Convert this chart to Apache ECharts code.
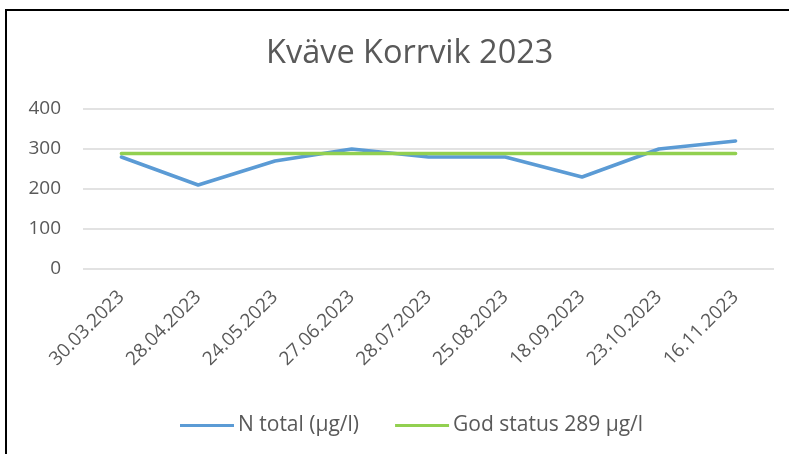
<!DOCTYPE html>
<html>
<head>
<meta charset="utf-8">
<script src="https://cdn.jsdelivr.net/npm/echarts@6/dist/echarts.min.js"></script>
<style>
  html, body { margin: 0; padding: 0; background: #fff; overflow: hidden; }
  #main { width: 789px; height: 454px; }
  #frame {
    position: absolute; left: 5px; top: 9px; width: 900px; height: 600px;
    border: 2px solid #000; pointer-events: none;
  }
</style>
</head>
<body>
<div id="main"></div>
<div id="frame"></div>
<script>
const dates = ["30.03.2023", "28.04.2023", "24.05.2023", "27.06.2023", "28.07.2023",
  "25.08.2023", "18.09.2023", "23.10.2023", "16.11.2023"]
const nTotal = [280, 210, 270, 300, 280, 280, 230, 300, 320]
const godStatus = [289, 289, 289, 289, 289, 289, 289, 289, 289]

const font = "'Open Sans', 'Noto Sans', sans-serif"
const grey = "#595959"

const myChart = echarts.init(document.getElementById("main"))

myChart.setOption({
  animation: false,
  textStyle: { fontFamily: font },
  title: {
    text: "Kväve Korrvik 2023",
    left: 261,
    top: 32,
    textStyle: { fontSize: 32.5, fontWeight: "normal", color: grey, fontFamily: font }
  },
  grid: { left: 83, right: 15, top: 109, bottom: 185, containLabel: false },
  legend: {
    top: 410,
    left: 175,
    itemWidth: 54,
    itemHeight: 3,
    itemGap: 36,
    textStyle: { fontSize: 21, color: grey, padding: [0, 0, 0, -1] },
    data: [
      { name: "N total (µg/l)", icon: "rect" },
      { name: "God status 289 µg/l", icon: "rect" }
    ]
  },
  xAxis: {
    type: "category",
    data: dates,
    boundaryGap: true,
    axisLine: { show: false },
    axisTick: { show: false },
    axisLabel: { rotate: 45, fontSize: 19, color: grey, margin: 25, interval: 0 }
  },
  yAxis: {
    type: "value",
    min: 0,
    max: 400,
    interval: 100,
    axisLine: { show: false },
    axisTick: { show: false },
    axisLabel: { fontSize: 19, color: grey, margin: 22 },
    splitLine: { lineStyle: { color: "#d9d9d9", width: 1.5 } }
  },
  series: [
    {
      name: "N total (µg/l)",
      type: "line",
      data: nTotal,
      symbol: "none",
      lineStyle: { color: "#5b9bd5", width: 3.5, cap: "round" },
      itemStyle: { color: "#5b9bd5" }
    },
    {
      name: "God status 289 µg/l",
      type: "line",
      data: godStatus,
      symbol: "none",
      lineStyle: { color: "#92d050", width: 3.5, cap: "round" },
      itemStyle: { color: "#92d050" }
    }
  ]
})
</script>
</body>
</html>
